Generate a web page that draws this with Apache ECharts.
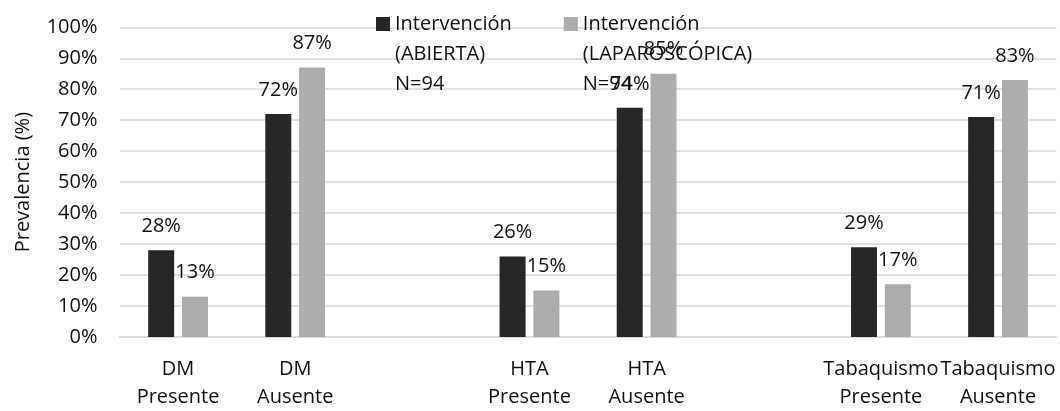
<!DOCTYPE html>
<html>
<head>
<meta charset="utf-8">
<script src="https://cdn.jsdelivr.net/npm/echarts@6/dist/echarts.min.js"></script>
<style>
  html, body { margin: 0; padding: 0; background: #ffffff; }
  #chart { width: 1060px; height: 411px; }
</style>
</head>
<body>
<div id="chart"></div>
<script>
// Categories (empty slots separate the three factor groups)
const categories = [
  'DM\nPresente', 'DM\nAusente', '',
  'HTA\nPresente', 'HTA\nAusente', '',
  'Tabaquismo\nPresente', 'Tabaquismo\nAusente'
];
const seriesNames = [
  'Intervención\n(ABIERTA)\nN=94',
  'Intervención\n(LAPAROSCÓPICA)\nN=94'
];
// Prevalence (%) per category
const abierta = [28, 72, null, 26, 74, null, 29, 71];
const laparoscopica = [13, 87, null, 15, 85, null, 17, 83];
const yTicks = { min: 0, max: 100, interval: 10 };

const FONT = '"Open Sans", "Noto Sans", sans-serif';
const chart = echarts.init(document.getElementById('chart'), null, { renderer: 'canvas' });

const labelCfg = {
  show: true,
  position: 'top',
  distance: 14,
  color: '#111111',
  fontFamily: FONT,
  fontSize: 20,
  formatter: p => p.value + '%'
};

chart.setOption({
  animation: false,
  backgroundColor: '#ffffff',
  textStyle: { fontFamily: FONT },
  grid: { left: 119.5, right: 3.4, top: 27.3, bottom: 70.7, containLabel: false },
  legend: {
    left: 371,
    top: -56,
    itemWidth: 14,
    itemHeight: 14,
    itemGap: 52,
    icon: 'rect',
    // two blank lines ahead of the name keep the swatch level with its first line
    formatter: name => '\n\n' + name,
    textStyle: {
      fontFamily: FONT,
      fontSize: 20,
      color: '#111111',
      lineHeight: 30
    },
    data: seriesNames
  },
  xAxis: {
    type: 'category',
    data: categories,
    axisLine: { show: true, lineStyle: { color: '#d9d9d9', width: 1.5 } },
    axisTick: { show: false },
    axisLabel: {
      interval: 0,
      margin: 18,
      fontFamily: FONT,
      fontSize: 20,
      lineHeight: 28,
      color: '#111111'
    }
  },
  yAxis: {
    type: 'value',
    min: yTicks.min,
    max: yTicks.max,
    interval: yTicks.interval,
    name: 'Prevalencia (%)',
    nameLocation: 'middle',
    nameGap: 86,
    nameRotate: 90,
    nameTextStyle: { fontFamily: FONT, fontSize: 20, color: '#111111' },
    axisLine: { show: false },
    axisTick: { show: false },
    axisLabel: {
      margin: 22,
      fontFamily: FONT,
      fontSize: 20,
      color: '#111111',
      formatter: '{value}%'
    },
    splitLine: { show: true, lineStyle: { color: '#d9d9d9', width: 1.5 } }
  },
  series: [
    {
      name: seriesNames[0],
      type: 'bar',
      data: abierta,
      barWidth: 26,
      barGap: '30%',
      itemStyle: { color: '#262626' },
      label: labelCfg
    },
    {
      name: seriesNames[1],
      type: 'bar',
      data: laparoscopica,
      barWidth: 26,
      barGap: '30%',
      itemStyle: { color: '#aeabab' },
      label: labelCfg
    }
  ]
});
</script>
</body>
</html>
